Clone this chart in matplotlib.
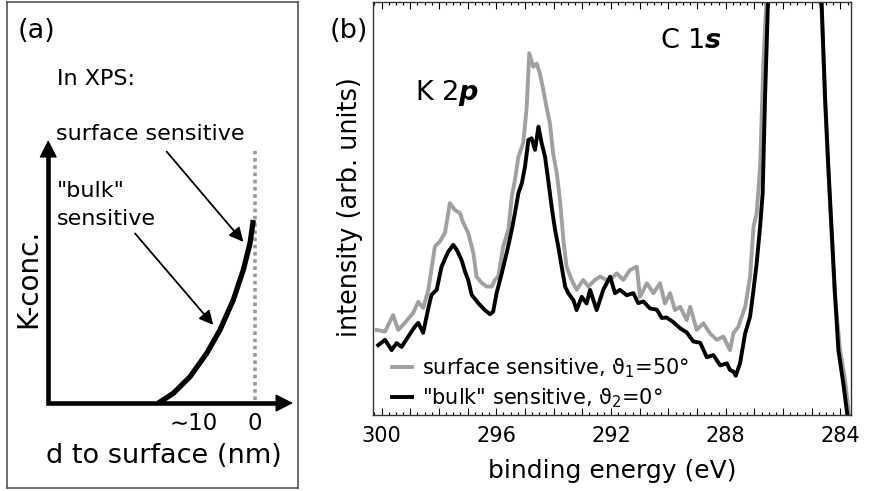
import matplotlib
matplotlib.use("Agg")
import matplotlib.pyplot as plt
from matplotlib.ticker import MultipleLocator, FuncFormatter
import numpy as np

plt.rcParams['font.family'] = ['DejaVu Sans']
plt.rcParams['mathtext.fontset'] = 'custom'
plt.rcParams['mathtext.rm'] = 'DejaVu Sans'
plt.rcParams['mathtext.it'] = 'DejaVu Sans:italic:bold'
plt.rcParams['mathtext.bf'] = 'DejaVu Sans:bold'

# ---------------- data: panel (b) XPS spectra ----------------
energy_bulk = [300.12, 299.88, 299.65, 299.48, 299.30, 299.07, 298.84, 298.72, 298.55, 298.37,
               298.26, 298.08, 297.91, 297.68, 297.50, 297.38, 297.21, 297.09, 296.98, 296.86,
               296.63, 296.40, 296.22, 296.11, 295.99, 295.81, 295.64, 295.46, 295.35, 295.23,
               295.11, 295.00, 294.88, 294.77, 294.65, 294.53, 294.42, 294.30, 294.19, 294.07,
               293.95, 293.84, 293.72, 293.60, 293.49, 293.31, 293.20, 293.02, 292.85, 292.73,
               292.50, 292.27, 292.03, 291.86, 291.69, 291.45, 291.22, 291.05, 290.87, 290.64,
               290.40, 290.23, 290.06, 289.83, 289.59, 289.36, 289.13, 288.89, 288.66, 288.43,
               288.19, 287.96, 287.85, 287.73, 287.65, 287.50, 287.32, 287.15, 287.03, 286.92,
               286.80, 286.71, 286.63, 286.53, 286.30, 285.60, 284.90, 284.65, 284.53, 284.42,
               284.30, 284.19, 284.07, 283.90, 283.78, 283.70]
intensity_bulk = [16.9, 18.2, 15.7, 17.4, 16.5, 19.0, 21.4, 22.3, 19.9, 25.9,
                  29.1, 30.3, 35.9, 39.5, 41.2, 40.0, 37.5, 34.7, 32.7, 29.1,
                  27.1, 25.4, 24.4, 25.0, 29.5, 34.3, 39.2, 44.8, 48.9, 53.7,
                  56.1, 60.1, 66.6, 67.0, 64.2, 69.8, 65.9, 62.5, 56.9, 50.4,
                  44.8, 40.8, 35.9, 31.1, 29.5, 27.8, 25.4, 28.6, 27.0, 30.3,
                  25.4, 30.3, 33.5, 29.5, 30.3, 29.0, 29.5, 27.1, 27.5, 25.8,
                  25.5, 23.5, 23.6, 22.5, 21.0, 20.0, 17.8, 17.5, 14.0, 14.5,
                  12.0, 12.5, 10.9, 10.5, 9.5, 12.5, 19.8, 23.8, 30.3, 36.7,
                  45.6, 53.7, 76.3, 98.9, 160.0, 220.0, 150.0, 98.9, 76.3, 60.1,
                  44.1, 29.5, 15.7, 7.7, 1.2, -3.0]

energy_surf = [300.17, 299.88, 299.60, 299.42, 299.19, 298.90, 298.72, 298.55, 298.37, 298.14,
               297.97, 297.79, 297.62, 297.44, 297.27, 297.15, 296.98, 296.80, 296.69, 296.51,
               296.34, 296.16, 296.05, 295.93, 295.76, 295.58, 295.46, 295.35, 295.23, 295.06,
               294.94, 294.85, 294.71, 294.59, 294.48, 294.36, 294.25, 294.13, 294.02, 293.89,
               293.78, 293.66, 293.55, 293.37, 293.20, 292.97, 292.79, 292.56, 292.38, 292.15,
               292.03, 291.80, 291.57, 291.34, 291.10, 290.99, 290.75, 290.52, 290.29, 290.12,
               289.94, 289.77, 289.59, 289.36, 289.24, 289.01, 288.78, 288.55, 288.31, 288.08,
               287.85, 287.73, 287.56, 287.32, 287.15, 287.03, 286.92, 286.80, 286.69, 286.59,
               286.35, 285.60, 284.90, 284.66, 284.54, 284.43, 284.31, 284.20, 284.01, 283.84,
               283.72, 283.65]
intensity_surf = [20.6, 20.2, 24.2, 20.6, 22.3, 24.7, 27.4, 25.9, 30.3, 40.8,
                  42.0, 44.1, 51.3, 49.6, 48.9, 46.5, 44.1, 39.2, 33.5, 32.0,
                  31.1, 31.1, 32.7, 33.5, 40.8, 44.8, 52.9, 56.9, 62.5, 65.9,
                  74.6, 87.6, 84.3, 85.1, 82.7, 78.7, 74.6, 70.6, 63.4, 58.5,
                  52.1, 42.4, 35.9, 32.7, 30.3, 32.7, 31.1, 32.7, 33.5, 32.7,
                  32.7, 34.3, 32.7, 35.1, 35.9, 28.6, 31.9, 29.5, 31.9, 27.0,
                  29.5, 25.4, 26.2, 23.0, 26.2, 20.6, 22.2, 19.8, 18.2, 19.0,
                  15.7, 19.8, 21.4, 26.2, 33.5, 45.6, 48.8, 60.1, 84.3, 98.9,
                  160.0, 220.0, 150.0, 98.9, 76.3, 60.1, 44.1, 29.5, 15.7, 8.5,
                  1.2, -3.0]

labels_b = ['surface sensitive, ϑ$_1$=50°', '"bulk" sensitive, ϑ$_2$=0°']

# ---------------- data: panel (a) schematic profile ----------------
depth_nm = [15.85, 13.39, 10.66, 7.92, 5.74, 3.56, 1.92, 0.82, 0.28]
k_conc = [0.0, 3.7, 10.0, 18.9, 27.8, 39.2, 50.6, 60.7, 69.6]
depth_ticks = [10, 0]
depth_ticklabels = ['∼10', '0']

# ---------------- figure ----------------
fig = plt.figure(figsize=(8.71, 4.91), dpi=100)

# ---- panel (a)
axA = fig.add_axes([7/871, 3/491, 291/871, 486/491])
axA.set_xlim(40.66, -7.05)
axA.set_ylim(-32.3, 152.5)
axA.set_xticks([]); axA.set_yticks([])
for s in axA.spines.values():
    s.set_color('#555555'); s.set_linewidth(1.2)

x0 = 33.9
axA.plot([x0, x0, -3.5], [95.0, 0, 0], color='k', lw=3.3,
         solid_joinstyle='miter', solid_capstyle='butt')
head = dict(arrowstyle='-|>,head_length=0.55,head_width=0.28', color='k', lw=1,
            mutation_scale=20, shrinkA=0, shrinkB=0)
axA.annotate('', xy=(x0, 100), xytext=(x0, 90), arrowprops=head)
axA.annotate('', xy=(-6.23, 0), xytext=(-2.0, 0), arrowprops=head)

axA.plot([0, 0], [1.1, 96.2], color='#999999', lw=2.6, linestyle=(0, (1, 1)))
axA.plot(depth_nm, k_conc, color='k', lw=3.8, solid_capstyle='butt')

thin = dict(arrowstyle='-|>,head_length=0.6,head_width=0.3', color='k', lw=1.3,
            mutation_scale=14, shrinkA=0, shrinkB=0)
axA.annotate('', xy=(1.92, 61.3), xytext=(14.48, 95.6), arrowprops=thin)
axA.annotate('', xy=(6.84, 29.7), xytext=(19.67, 64.5), arrowprops=thin)

axA.text(38.85, 138.8, '(a)', fontsize=19.5, ha='left', va='baseline')
axA.text(32.46, 120.9, 'In XPS:', fontsize=16, ha='left', va='baseline')
axA.text(32.62, 100.0, 'surface sensitive', fontsize=16, ha='left', va='baseline')
axA.text(32.46, 78.4, '"bulk"', fontsize=16, ha='left', va='baseline')
axA.text(32.46, 67.7, 'sensitive', fontsize=16, ha='left', va='baseline')
for d, lab in zip(depth_ticks, depth_ticklabels):
    axA.text(d, -10.3, lab, fontsize=16.5, ha='center', va='baseline')
axA.text(15.0, -22.8, 'd to surface (nm)', fontsize=19.5, ha='center', va='baseline')
axA.text(37.2, 47.5, 'K-conc.', fontsize=20, rotation=90, ha='center', va='center')

# ---- panel (b)
axB = fig.add_axes([373/871, 76/491, 478/871, 413/491])
axB.plot(energy_surf, intensity_surf, color='#a0a0a0', lw=2.8, label=labels_b[0])
axB.plot(energy_bulk, intensity_bulk, color='k', lw=2.8, label=labels_b[1])
axB.set_xlim(300.30, 283.63)
axB.set_ylim(0, 100)
axB.set_yticks([])
axB.xaxis.set_major_locator(MultipleLocator(1))
axB.xaxis.set_minor_locator(MultipleLocator(0.25))
axB.xaxis.set_major_formatter(FuncFormatter(lambda v, p: f"{v:.0f}" if int(round(v)) % 4 == 0 else ""))
axB.tick_params(axis='x', which='both', direction='in', top=True, bottom=True,
                labelsize=15, pad=8, width=0.8)
axB.tick_params(axis='x', which='major', length=5)
axB.tick_params(axis='x', which='minor', length=2.5)
for s in axB.spines.values():
    s.set_color('#333333'); s.set_linewidth(1.0)

axB.set_xlabel('binding energy (eV)', fontsize=18, labelpad=9)
fig.text(350/871, (491-207)/491, 'intensity (arb. units)', fontsize=18.4,
         rotation=90, ha='center', va='center')
fig.text(330/871, (491-38)/491, '(b)', fontsize=19.5, ha='left', va='baseline')

axB.text(0.0879, 0.763, 'K 2$\\mathit{p}$', transform=axB.transAxes, fontsize=19.5,
         ha='left', va='baseline')
axB.text(0.600, 0.889, 'C 1$\\mathit{s}$', transform=axB.transAxes, fontsize=19.5,
         ha='left', va='baseline')

axB.legend(loc='lower left', bbox_to_anchor=(0.0397, 0.012), frameon=False, fontsize=15,
           handlelength=0.95, handletextpad=0.5, labelspacing=0.3, borderpad=0,
           borderaxespad=0)

fig.savefig('out.png', dpi=100)
